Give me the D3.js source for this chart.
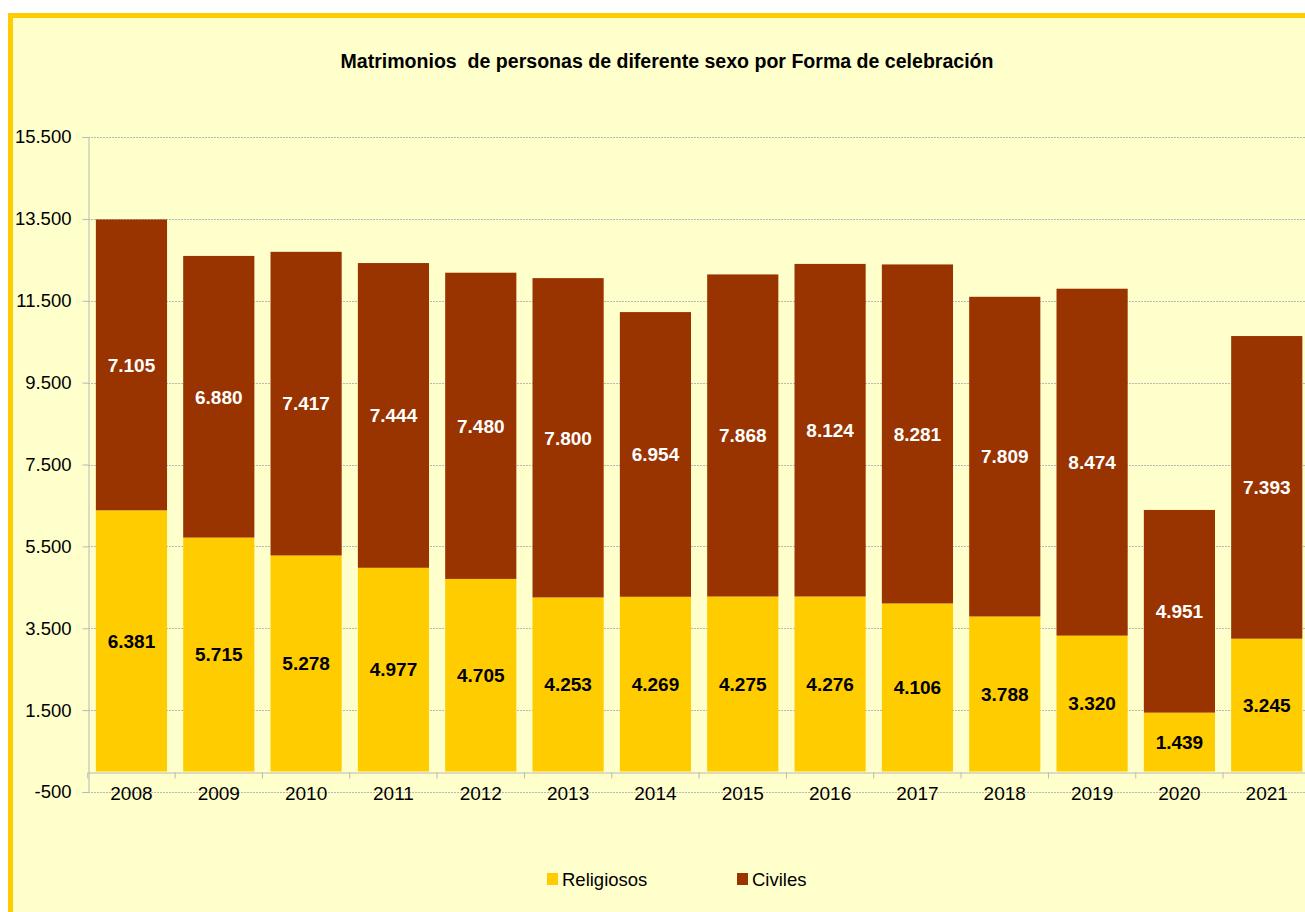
<!DOCTYPE html>
<html>
<head>
<meta charset="utf-8">
<script src="https://cdn.jsdelivr.net/npm/d3@7"></script>
<style>
  body { margin: 0; background: #fff; }
  svg { display: block; font-family: "Liberation Sans", Arial, sans-serif; }
</style>
</head>
<body>
<svg class="chart" width="1305" height="912"></svg>
<script>
// Matrimonios de personas de diferente sexo por forma de celebracion

var years = ["2008", "2009", "2010", "2011", "2012", "2013", "2014", "2015", "2016", "2017", "2018", "2019", "2020", "2021"];
var religiosos = [6381, 5715, 5278, 4977, 4705, 4253, 4269, 4275, 4276, 4106, 3788, 3320, 1439, 3245];
var civiles = [7105, 6880, 7417, 7444, 7480, 7800, 6954, 7868, 8124, 8281, 7809, 8474, 4951, 7393];
var yTicks = [-500, 1500, 3500, 5500, 7500, 9500, 11500, 13500, 15500];
var seriesNames = ["Religiosos", "Civiles"];

var colors = {Religiosos: "#FFCC00", Civiles: "#993300"};

var svg = d3.select(".chart"),
    margin = {top: 137, left: 88, right: -5, bottom: 120},
    width = +svg.attr("width") - margin.left - margin.right,
    height = +svg.attr("height") - margin.top - margin.bottom;

var es = d3.formatLocale({decimal: ",", thousands: ".", grouping: [3], currency: ["", "€"], minus: "-"});
var fmt = es.format(",d");

// panel background + border (runs off the right and bottom edge)
svg.append("rect")
    .attr("x", 10.5).attr("y", 15.5)
    .attr("width", 1400).attr("height", 1000)
    .attr("fill", "#FFFFCC")
    .attr("stroke", "#FFCC00")
    .attr("stroke-width", 5);

svg.append("text")
    .attr("x", 667).attr("y", 68)
    .attr("text-anchor", "middle")
    .attr("font-weight", "bold")
    .attr("font-size", 19.5)
    .attr("fill", "#000")
    .attr("xml:space", "preserve")
    .attr("textLength", 653)
    .attr("lengthAdjust", "spacingAndGlyphs")
    .text("Matrimonios  de personas de diferente sexo por Forma de celebración");

var g = svg.append("g").attr("transform", "translate(" + margin.left + "," + margin.top + ")");

var x = d3.scaleBand().domain(years).range([0, 87.3 * years.length]).paddingInner(0.185).paddingOuter(0.09);
var y = d3.scaleLinear().domain([-500, 15500]).range([655, 0]);

// gridlines
g.selectAll(".grid")
    .data(yTicks)
    .enter().append("line")
    .attr("x1", 0).attr("x2", width)
    .attr("y1", function(d) { return Math.round(y(d)) + 0.5; })
    .attr("y2", function(d) { return Math.round(y(d)) + 0.5; })
    .attr("stroke", "#b8b8b8")
    .attr("stroke-dasharray", "2,1");

// y axis
var yAxis = g.append("g")
    .attr("transform", "translate(0.5,0)")
    .call(d3.axisLeft(y).tickValues(yTicks).tickSize(6).tickFormat(fmt));
yAxis.select(".domain").attr("stroke", "#b8b8b8");
yAxis.selectAll(".tick line").attr("stroke", "#b8b8b8");
yAxis.selectAll(".tick text")
    .attr("font-size", 18.5)
    .attr("font-family", "Liberation Sans, Arial, sans-serif")
    .attr("fill", "#000")
    .attr("x", -17);

// stacked data
var table = years.map(function(yr, i) {
    return {year: yr, Religiosos: religiosos[i], Civiles: civiles[i]};
});
var stack = d3.stack().keys(seriesNames)(table);

var layers = g.selectAll(".layer")
    .data(stack)
    .enter().append("g")
    .attr("class", "layer")
    .attr("fill", function(d) { return colors[d.key]; });

layers.selectAll("rect")
    .data(function(d) { return d; })
    .enter().append("rect")
    .attr("x", function(d) { return x(d.data.year); })
    .attr("y", function(d) { return y(d[1]); })
    .attr("width", x.bandwidth())
    .attr("height", function(d) { return y(d[0]) - y(d[1]); });

// x axis at zero
var xAxis = g.append("g")
    .attr("transform", "translate(0," + (Math.round(y(0)) + 0.5) + ")")
    .call(d3.axisBottom(x).tickSize(0).tickSizeOuter(0));
xAxis.select(".domain").attr("stroke", "#b8b8b8");
xAxis.selectAll(".tick text")
    .attr("font-size", 19)
    .attr("font-family", "Liberation Sans, Arial, sans-serif")
    .attr("fill", "#000")
    .attr("dy", "1.3em");
// category separators
xAxis.selectAll(".sep")
    .data(years)
    .enter().append("line")
    .attr("x1", function(d) { return x(d) - x.step() * x.paddingInner() / 2; })
    .attr("x2", function(d) { return x(d) - x.step() * x.paddingInner() / 2; })
    .attr("y1", 0).attr("y2", 6)
    .attr("stroke", "#b8b8b8");

// value labels
layers.each(function(layer) {
    d3.select(this).selectAll(".lbl")
        .data(layer)
        .enter().append("text")
        .attr("x", function(d) { return x(d.data.year) + x.bandwidth() / 2; })
        .attr("y", function(d) { return (y(d[0]) + y(d[1])) / 2; })
        .attr("dy", "0.36em")
        .attr("text-anchor", "middle")
        .attr("font-weight", "bold")
        .attr("font-size", 19)
        .attr("fill", layer.key === "Civiles" ? "#fff" : "#000")
        .text(function(d) { return fmt(d.data[layer.key]); });
});

// legend
var legend = svg.append("g").attr("transform", "translate(547,873)");
var items = legend.selectAll(".item")
    .data(seriesNames)
    .enter().append("g")
    .attr("transform", function(d, i) { return "translate(" + (i * 190) + ",0)"; });
items.append("rect")
    .attr("width", 11).attr("height", 12)
    .attr("fill", function(d) { return colors[d]; });
items.append("text")
    .attr("x", 15).attr("y", 12.5)
    .attr("font-size", 18.5)
    .attr("fill", "#000")
    .text(function(d) { return d; });
</script>
</body>
</html>
